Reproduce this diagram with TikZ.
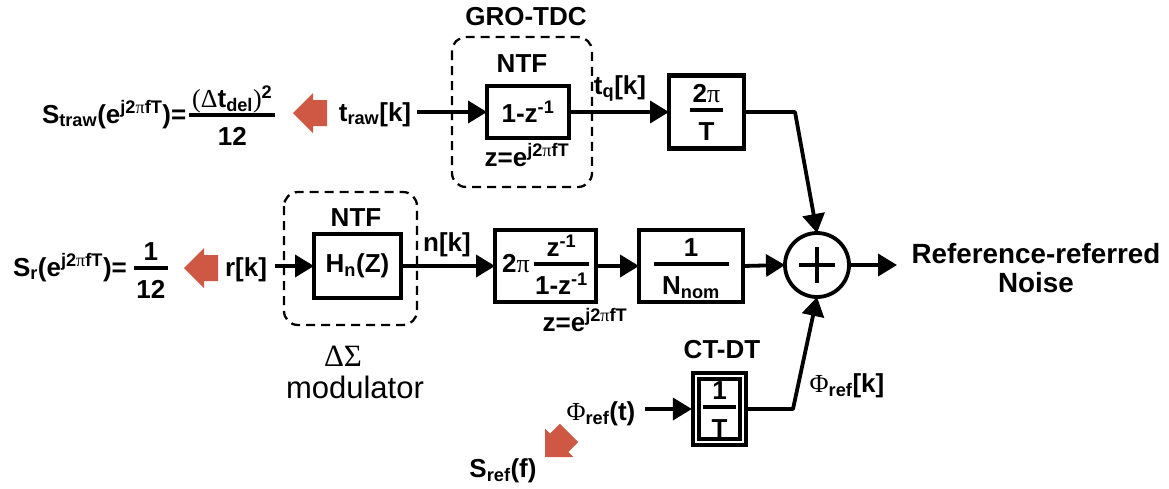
\documentclass[tikz,border=0pt]{standalone}
\usepackage{fontspec}
\setmainfont{Liberation Sans}
\newfontfamily\grk{Liberation Serif}
\usetikzlibrary{arrows.meta}
\definecolor{redarrow}{RGB}{206,88,68}
\newcommand\gpi{{\grk\mdseries π}}
\newcommand\ejt{e\textsuperscript{j2\gpi fT}}
% fraction: width, numerator, denominator
\newcommand\myfrac[3]{\ensuremath{\vcenter{\offinterlineskip
  \hbox to #1{\hss\raisebox{0pt}[19pt][0pt]{#2}\hss}%
  \kern 5.5pt
  \hrule height 4pt
  \kern 9.5pt
  \hbox to #1{\hss\raisebox{0pt}[19pt][0pt]{#3}\hss}}}}
\begin{document}
\begin{tikzpicture}[x=1pt,y=-1pt,
  every node/.style={font=\fontsize{26}{31}\selectfont\bfseries, inner sep=0pt, outer sep=0pt},
  blk/.style={draw, line width=4.4pt},
  dbox/.style={draw, line width=2.3pt, dash pattern=on 9pt off 6pt, rounded corners=14pt},
  conn/.style={line width=3.8pt, line join=round, -{Triangle[length=19pt,width=22pt]}},
  lbl/.style={anchor=base},
  redarr/.pic={\fill[redarrow] (0,0) -- (20,-20) -- (20,-13) -- (34,-13) -- (34,13) -- (20,13) -- (20,20) -- cycle;},
]
\useasboundingbox (0,0) rectangle (1169,488);

% dashed groups
\draw[dbox] (452,37) rectangle (592,187);
\draw[dbox] (284,192) rectangle (417,325);

% blocks
\node[blk, minimum width=82pt, minimum height=52pt] (A) at (528,112) {1-z\textsuperscript{-1}};
\node[blk, minimum width=75pt, minimum height=73pt] (B) at (706.5,112) {\myfrac{33pt}{2\gpi}{T}};
\node[blk, minimum width=87pt, minimum height=64pt] (H) at (357.5,266) {H\textsubscript{n}(Z)};
\node[blk, minimum width=101pt, minimum height=72pt] (D) at (545.5,266) {2\gpi\,\myfrac{55pt}{z\textsuperscript{-1}}{1-z\textsuperscript{-1}}};
\node[blk, minimum width=104pt, minimum height=72pt] (N) at (691,266) {\myfrac{75pt}{1}{N\textsubscript{nom}}};
\node[draw, line width=3.6pt, double, double distance=2.5pt, minimum width=47.3pt, minimum height=66.3pt] (C) at (719.5,409) {\myfrac{33pt}{1}{T}};
\node[circle, draw, line width=3.8pt, minimum size=64pt] (S) at (817,265) {};
\draw[line width=3.8pt] ([xshift=-18pt]S.center) -- ([xshift=18pt]S.center);
\draw[line width=3.8pt] ([yshift=-18pt]S.center) -- ([yshift=18pt]S.center);

% labels
\node[lbl] (gro) at (526,25) {GRO-TDC};
\node[lbl] (ntf1) at (522,72) {NTF};
\node[lbl] (z1) at (527,166) {z=\ejt};
\node[lbl] (traw) at (375,121) {t\textsubscript{raw}[k]};
\node[lbl] (tq) at (620,94) {t\textsubscript{q}[k]};
\node[lbl, anchor=base west] (Straw) at (42,123) {S\textsubscript{traw}(\ejt)=\hspace{3pt}\myfrac{86pt}{{\grk\mdseries(Δ}t\textsubscript{del}{\grk\mdseries)}\textsuperscript{2}}{12}};
\node[lbl, anchor=base west] (Sr) at (13,276) {S\textsubscript{r}(\ejt)=\hspace{7pt}\myfrac{34pt}{1}{12}};
\node[lbl] (rk) at (246,276) {r[k]};
\node[lbl] (ntf2) at (356,226) {NTF};
\node[lbl] (nk) at (447,251) {n[k]};
\node[lbl] (z2) at (585,331) {z=\ejt};
\node[lbl, font=\fontsize{31}{37}\selectfont\grk] (ds) at (343,366) {ΔΣ};
\node[lbl, font=\fontsize{31}{37}\selectfont] (mod) at (355,398) {modulator};
\node[lbl] (ctdt) at (722,358) {CT-DT};
\node[lbl] (phit) at (601,420) {{\grk\mdseries Φ}\textsubscript{ref}(t)};
\node[lbl] (phik) at (847,392) {{\grk\mdseries Φ}\textsubscript{ref}[k]};
\node[lbl] (sref) at (503,477) {S\textsubscript{ref}(f)};
\node[lbl, font=\fontsize{27.8}{33}\selectfont\bfseries] (out1) at (1036,263) {Reference-referred};
\node[lbl, font=\fontsize{27.8}{33}\selectfont\bfseries] (out2) at (1036,292) {Noise};

% red arrows
\pic at (293,113) {redarr};
\pic at (184,268) {redarr};
\pic[rotate=45] at (545,457) {redarr};

% connectors
\coordinate (trawR) at ([xshift=6pt]traw.east);
\draw[conn] (trawR |- A.west) -- (A.west);
\draw[conn] (A.east) -- (B.west);
\coordinate (k1) at (795,112);
\draw[conn] (B.east) -- (k1) -- (S.north);
\coordinate (rkR) at ([xshift=8pt]rk.east);
\draw[conn] (rkR |- H.west) -- (H.west);
\draw[conn] (H.east) -- (D.west);
\draw[conn] (D.east) -- (N.west);
\draw[conn] (N.east) -- (S.west);
\coordinate (outE) at (897,265);
\draw[conn] (S.east) -- (outE);
\coordinate (phitR) at ([xshift=10pt]phit.east);
\draw[conn, shorten >=4pt] (phitR |- C.west) -- (C.west);
\coordinate (k3) at (793,409);
\draw[conn] ([xshift=4pt]C.east) -- (k3) -- (S.south);
\end{tikzpicture}
\end{document}
